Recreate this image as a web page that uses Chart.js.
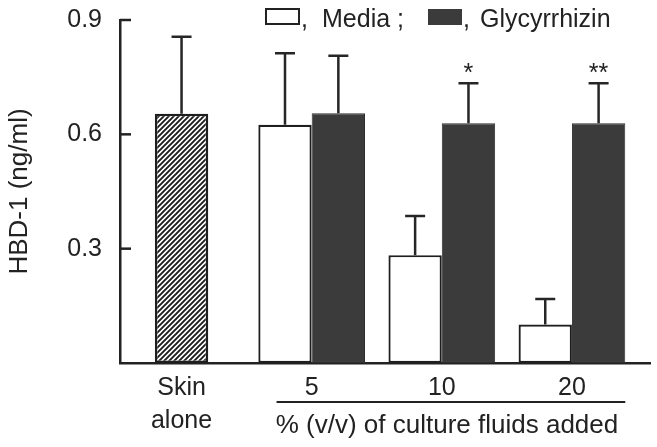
<!DOCTYPE html>
<html>
<head>
<meta charset="utf-8">
<script src="https://cdn.jsdelivr.net/npm/chart.js@4.4.1/dist/chart.umd.min.js"></script>
<style>
  html, body { margin: 0; padding: 0; background: #ffffff; }
  #wrap { width: 657px; height: 447px; }
</style>
</head>
<body>
<div id="wrap"><canvas id="c" width="657" height="447"></canvas></div>
<script>
// ---- data ----
const categories = ['Skin alone', '5', '10', '20'];
const xTickLabels = [['Skin', 'alone'], '5', '10', '20'];
const skinValues = [0.654, null, null, null];
const skinErrors = [0.202, null, null, null];
const mediaValues = [null, 0.625, 0.283, 0.101];
const mediaErrors = [null, 0.188, 0.103, 0.067];
const glycValues = [null, 0.655, 0.629, 0.629];
const glycErrors = [null, 0.151, 0.105, 0.105];
const glycMarks = ['', '', '*', '**'];
const yTickValues = [0.3, 0.6, 0.9];
const legendLabels = ['Media ;', 'Glycyrrhizin'];
const yTitle = 'HBD-1 (ng/ml)';
const xCaption = '% (v/v) of culture fluids added';

const FONT = "'Liberation Sans', Arial, sans-serif";
const INK = '#222222';
const DARK = '#3b3b3b';

function hatchPattern() {
  const s = 5;
  const c = document.createElement('canvas');
  c.width = s; c.height = s;
  const g = c.getContext('2d');
  g.fillStyle = '#ffffff';
  g.fillRect(0, 0, s, s);
  g.strokeStyle = '#1c1c1c';
  g.lineWidth = 1.9;
  g.beginPath();
  g.moveTo(-1, s + 1); g.lineTo(s + 1, -1);
  g.moveTo(-1, 1); g.lineTo(1, -1);
  g.moveTo(s - 1, s + 1); g.lineTo(s + 1, s - 1);
  g.stroke();
  return document.getElementById('c').getContext('2d').createPattern(c, 'repeat');
}

const toPoints = (arr) => arr.map((v, i) => ({ x: i, y: v }));

const errorPlugin = {
  id: 'errorBars',
  afterDatasetsDraw(chart) {
    const ctx = chart.ctx;
    const yScale = chart.scales.y;
    const sets = [
      { idx: 0, err: skinErrors, vals: skinValues, marks: null },
      { idx: 1, err: mediaErrors, vals: mediaValues, marks: null },
      { idx: 2, err: glycErrors, vals: glycValues, marks: glycMarks }
    ];
    ctx.save();
    ctx.strokeStyle = '#262626';
    ctx.lineWidth = 2.5;
    sets.forEach(s => {
      const meta = chart.getDatasetMeta(s.idx);
      meta.data.forEach((bar, i) => {
        const v = s.vals[i];
        if (v === null || s.err[i] === null) return;
        const top = yScale.getPixelForValue(v + s.err[i]);
        ctx.beginPath();
        ctx.moveTo(bar.x, bar.y);
        ctx.lineTo(bar.x, top);
        ctx.moveTo(bar.x - 10, top);
        ctx.lineTo(bar.x + 10, top);
        ctx.stroke();
        if (s.marks && s.marks[i]) {
          ctx.fillStyle = INK;
          ctx.font = '25px ' + FONT;
          ctx.textAlign = 'center';
          ctx.textBaseline = 'alphabetic';
          ctx.fillText(s.marks[i], bar.x, top - 2);
        }
      });
    });
    ctx.restore();
  }
};

const decorPlugin = {
  id: 'decor',
  afterDraw(chart) {
    const ctx = chart.ctx;
    const yScale = chart.scales.y;
    const xScale = chart.scales.x;
    const area = chart.chartArea;
    ctx.save();
    // inward tick marks on the y axis
    ctx.strokeStyle = INK;
    ctx.lineWidth = 2.5;
    yTickValues.forEach(v => {
      const py = yScale.getPixelForValue(v);
      ctx.beginPath();
      ctx.moveTo(area.left, py);
      ctx.lineTo(area.left + 11, py);
      ctx.stroke();
    });
    // legend
    ctx.lineWidth = 2;
    ctx.strokeStyle = INK;
    ctx.fillStyle = '#ffffff';
    ctx.fillRect(266, 9, 33, 15);
    ctx.strokeRect(266, 9, 33, 15);
    ctx.fillStyle = DARK;
    ctx.fillRect(428, 9, 34, 16);
    ctx.fillStyle = INK;
    ctx.font = '25px ' + FONT;
    ctx.textAlign = 'left';
    ctx.textBaseline = 'alphabetic';
    ctx.fillText(',', 301, 27);
    ctx.fillText(legendLabels[0], 322, 27);
    ctx.fillText(',', 463, 27);
    ctx.fillText(legendLabels[1], 480, 27);
    // caption rule under the concentration labels
    const lx0 = xScale.getPixelForValue(0.73);
    const lx1 = xScale.getPixelForValue(3.41);
    ctx.lineWidth = 2;
    ctx.beginPath();
    ctx.moveTo(lx0, 402);
    ctx.lineTo(lx1, 402);
    ctx.stroke();
    ctx.textAlign = 'center';
    ctx.font = '26px ' + FONT;
    ctx.fillText(xCaption, xScale.getPixelForValue(2.04), 433);
    ctx.restore();
  }
};

new Chart(document.getElementById('c'), {
  type: 'bar',
  data: {
    datasets: [
      {
        label: categories[0],
        data: toPoints(skinValues),
        backgroundColor: hatchPattern(),
        borderColor: '#1e1e1e',
        borderWidth: 2.5,
        borderSkipped: false,
        barPercentage: 0.5,
        categoryPercentage: 0.82
      },
      {
        label: legendLabels[0],
        data: toPoints(mediaValues),
        backgroundColor: '#ffffff',
        borderColor: '#1e1e1e',
        borderWidth: 2.2,
        borderSkipped: false,
        barPercentage: 1.0,
        categoryPercentage: 0.82
      },
      {
        label: legendLabels[1],
        data: toPoints(glycValues),
        backgroundColor: DARK,
        borderColor: '#2e2e2e',
        borderWidth: 1,
        borderSkipped: false,
        barPercentage: 1.0,
        categoryPercentage: 0.82
      }
    ]
  },
  options: {
    responsive: false,
    animation: false,
    devicePixelRatio: 1,
    skipNull: true,
    layout: { padding: { top: 20, right: 7, bottom: 0, left: 0 } },
    plugins: {
      legend: { display: false },
      tooltip: { enabled: false }
    },
    scales: {
      x: {
        type: 'linear',
        offset: false,
        bounds: 'data',
        min: -0.473,
        max: 3.6,
        grid: { display: false, drawTicks: false },
        border: { display: true, color: INK, width: 2.5 },
        afterBuildTicks: (scale) => { scale.ticks = categories.map((c, i) => ({ value: i })); },
        afterFit: (scale) => { scale.height = 84; scale.paddingLeft = 0; scale.paddingRight = 0; },
        ticks: {
          autoSkip: false,
          maxRotation: 0,
          padding: 9,
          color: INK,
          font: { family: FONT, size: 25, lineHeight: 1.32 },
          callback: (v) => xTickLabels[v]
        }
      },
      y: {
        min: 0,
        max: 0.9,
        grid: { display: false, drawTicks: false },
        border: { display: true, color: INK, width: 2.5 },
        afterBuildTicks: (scale) => { scale.ticks = yTickValues.map(v => ({ value: v })); },
        afterFit: (scale) => { scale.width = 120; scale.paddingTop = 0; scale.paddingBottom = 0; },
        ticks: {
          padding: 18,
          color: INK,
          font: { family: FONT, size: 25 },
          callback: (v) => v.toFixed(1)
        },
        title: {
          display: true,
          text: yTitle,
          color: INK,
          font: { family: FONT, size: 26, lineHeight: 1.2 },
          padding: { top: 4, bottom: 0 }
        }
      }
    }
  },
  plugins: [errorPlugin, decorPlugin]
});
</script>
</body>
</html>
